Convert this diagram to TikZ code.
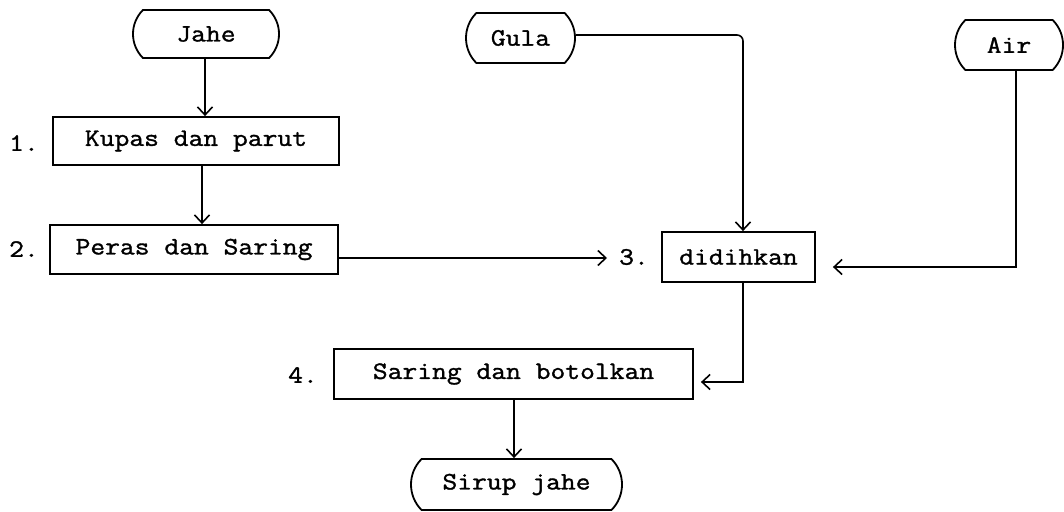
\documentclass[tikz,border=0pt]{standalone}
\usepackage{fontspec}
\usetikzlibrary{shapes.misc,arrows.meta}
\setmonofont[FakeStretch=1.15,FakeBold=1.3]{Latin Modern Mono}
\begin{document}
\begin{tikzpicture}[x=1pt,y=-1pt,
  every node/.style={font=\ttfamily\fontsize{25}{29}\selectfont, inner sep=0pt},
  term/.style={draw, line width=1.8pt, rounded rectangle, rounded rectangle arc length=90},
  proc/.style={draw, line width=1.8pt, rectangle},
  lbl/.style={},
  conn/.style={line width=1.6pt, -{Straight Barb[length=8pt,width=15pt,line width=1.6pt]}},
]
\useasboundingbox (0,0) rectangle (1064,511);
% terminators
\node[term, minimum width=146pt, minimum height=48pt] (jahe) at (206,34) {Jahe};
\node[term, minimum width=109pt, minimum height=50pt] (gula) at (520.5,38) {Gula};
\node[term, minimum width=108pt, minimum height=50pt] (air) at (1009,45) {Air};
\node[term, minimum width=211pt, minimum height=51pt] (sirup) at (516.5,484.5) {Sirup jahe};
% process boxes
\node[proc, minimum width=286pt, minimum height=48pt] (kupas) at (196,141) {Kupas dan parut};
\node[proc, minimum width=288pt, minimum height=49pt] (peras) at (194,249.5) {Peras dan Saring};
\node[proc, minimum width=153pt, minimum height=50pt] (didih) at (738.5,257) {didihkan};
\node[proc, minimum width=359pt, minimum height=50pt] (saring) at (513.5,374) {Saring dan botolkan};
% step labels
\node[lbl] (l1) at (24,143) {1.};
\node[lbl] (l2) at (24,249) {2.};
\node[lbl] (l3) at (634,257) {3.};
\node[lbl] (l4) at (303,375) {4.};
% connectors
\coordinate (p3) at (607,258);
\draw[conn] (jahe.south -| 205,0) -- (kupas.north -| 205,0);
\draw[conn] (kupas.south -| 202,0) -- (peras.north -| 202,0);
\draw[conn] (peras.east |- p3) -- (p3);
\draw[conn, rounded corners=6pt] (gula.east |- 0,35) -| (didih.north -| 743,0);
\draw[conn, shorten >=17pt] (air.south -| 1016,0) |- (didih.east |- 0,267);
\draw[conn, shorten >=7pt] (didih.south -| 743,0) |- (saring.east |- 0,382);
\draw[conn] (saring.south -| 514,0) -- (sirup.north -| 514,0);
\end{tikzpicture}
\end{document}
